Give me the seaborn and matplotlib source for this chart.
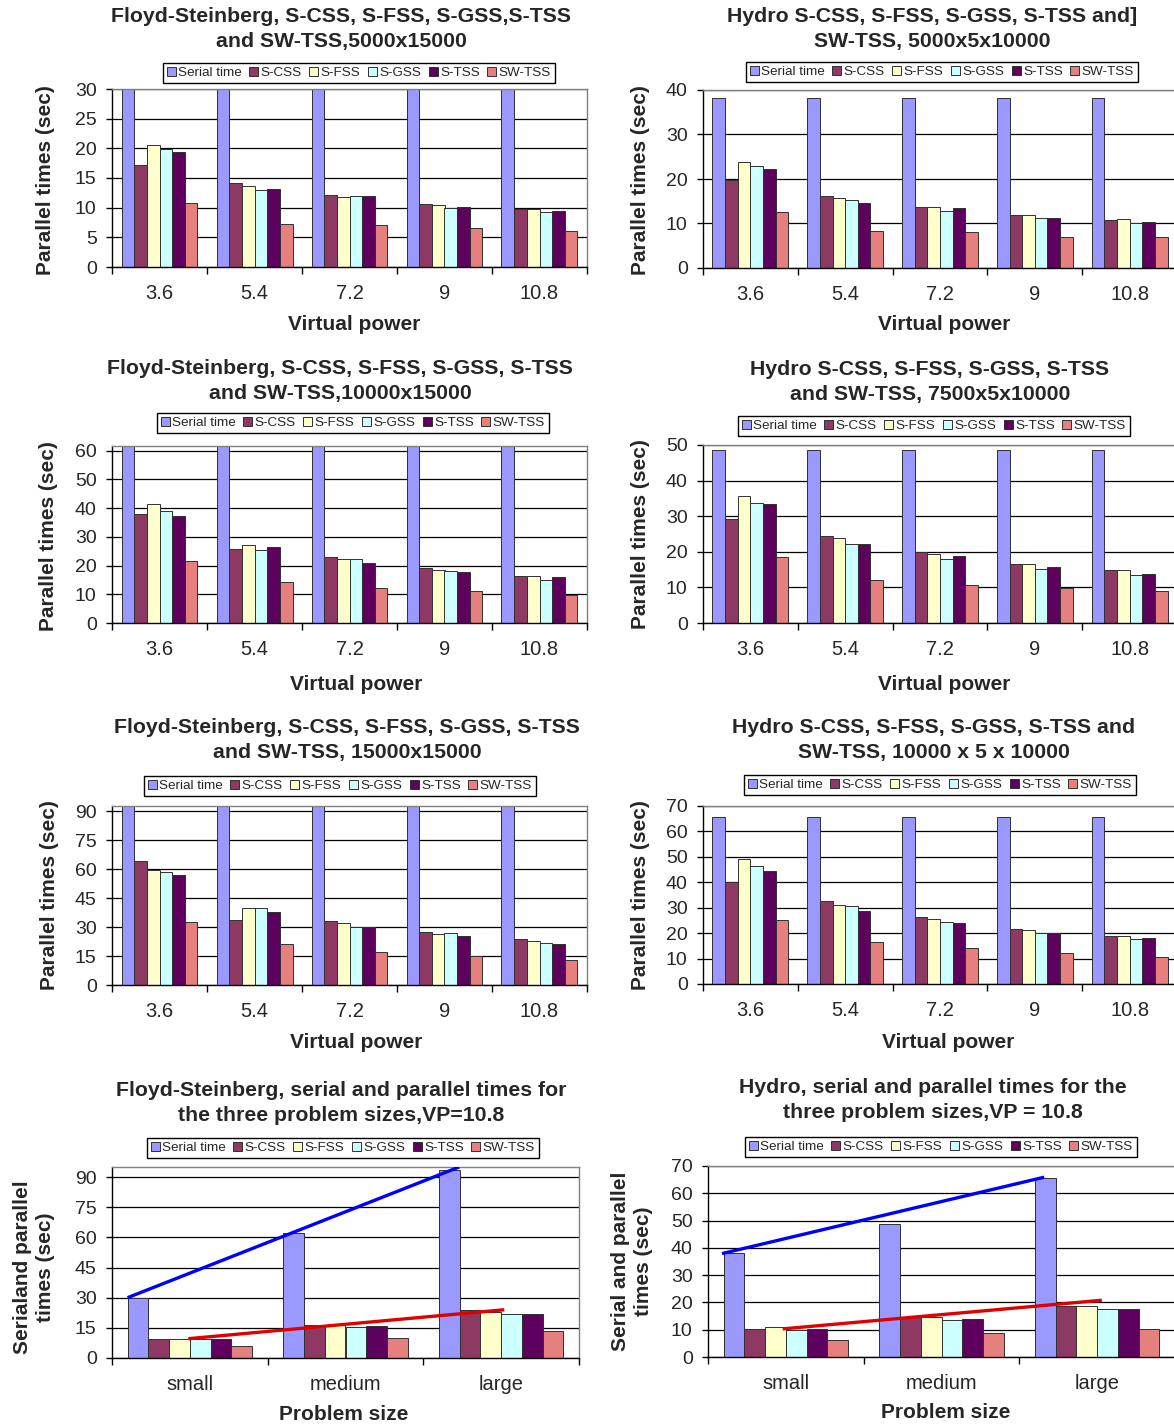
import numpy as np
import pandas as pd
import matplotlib
matplotlib.use("Agg")
import matplotlib.pyplot as plt
from matplotlib.patches import Patch
import seaborn as sns

# ---------------------------------------------------------------- data
SCHEDULES = ["Serial time", "S-CSS", "S-FSS", "S-GSS", "S-TSS", "SW-TSS"]
COLORS = ["#9999FF", "#8E3864", "#FFFFCC", "#CCFFFF", "#5E005E", "#E6807F"]
VP = ["3.6", "5.4", "7.2", "9", "10.8"]
SIZES = ["small", "medium", "large"]

# Floyd-Steinberg, 5000x15000
fs5k = {
    "Serial time": [30.0, 30.0, 30.0, 30.0, 30.0],
    "S-CSS": [17.2, 14.2, 12.1, 10.7, 9.7],
    "S-FSS": [20.5, 13.7, 11.8, 10.5, 9.7],
    "S-GSS": [19.9, 13.0, 12.0, 10.0, 9.3],
    "S-TSS": [19.35, 13.2, 12.0, 10.15, 9.5],
    "SW-TSS": [10.8, 7.3, 7.15, 6.5, 6.1],
}
# Hydro, 5000x5x10000
hy5k = {
    "Serial time": [38.3, 38.3, 38.3, 38.3, 38.3],
    "S-CSS": [19.8, 16.2, 13.8, 11.9, 10.7],
    "S-FSS": [23.8, 15.8, 13.6, 11.9, 10.9],
    "S-GSS": [23.0, 15.2, 12.9, 11.2, 10.0],
    "S-TSS": [22.3, 14.7, 13.5, 11.2, 10.3],
    "SW-TSS": [12.5, 8.4, 8.15, 7.0, 6.9],
}
# Floyd-Steinberg, 10000x15000
fs10k = {
    "Serial time": [62.2, 62.2, 62.2, 62.2, 62.2],
    "S-CSS": [37.8, 25.9, 22.8, 19.0, 16.5],
    "S-FSS": [41.3, 27.3, 22.1, 18.6, 16.5],
    "S-GSS": [39.1, 25.3, 22.4, 18.0, 15.1],
    "S-TSS": [37.4, 26.3, 21.0, 17.6, 15.9],
    "SW-TSS": [21.7, 14.1, 12.3, 11.0, 9.65],
}
# Hydro, 7500x5x10000
hy7k = {
    "Serial time": [48.7, 48.7, 48.7, 48.7, 48.7],
    "S-CSS": [29.1, 24.3, 19.9, 16.7, 14.8],
    "S-FSS": [35.7, 23.9, 19.5, 16.7, 15.0],
    "S-GSS": [33.8, 22.3, 18.1, 15.1, 13.6],
    "S-TSS": [33.3, 22.3, 18.7, 15.6, 13.9],
    "SW-TSS": [18.4, 12.0, 10.8, 9.85, 9.0],
}
# Floyd-Steinberg, 15000x15000
fs15k = {
    "Serial time": [93.4, 93.4, 93.4, 93.4, 93.4],
    "S-CSS": [63.9, 33.7, 33.2, 27.5, 23.8],
    "S-FSS": [59.4, 39.7, 32.0, 26.4, 23.0],
    "S-GSS": [58.7, 39.7, 29.9, 26.9, 21.9],
    "S-TSS": [56.8, 37.8, 30.1, 25.4, 21.2],
    "SW-TSS": [32.6, 21.1, 17.1, 15.0, 13.1],
}
# Hydro, 10000x5x10000
hy10k = {
    "Serial time": [65.7, 65.7, 65.7, 65.7, 65.7],
    "S-CSS": [40.3, 32.5, 26.2, 21.8, 18.7],
    "S-FSS": [49.2, 31.2, 25.4, 21.4, 18.7],
    "S-GSS": [46.5, 30.5, 24.3, 20.0, 17.6],
    "S-TSS": [44.6, 28.9, 23.9, 20.0, 17.9],
    "SW-TSS": [25.0, 16.4, 14.1, 12.1, 10.5],
}
# Floyd-Steinberg, VP = 10.8, three problem sizes
fs_sizes = {
    "Serial time": [30.0, 62.2, 93.4],
    "S-CSS": [9.5, 16.6, 23.7],
    "S-FSS": [9.5, 16.6, 22.8],
    "S-GSS": [9.4, 15.4, 21.8],
    "S-TSS": [9.5, 15.9, 21.7],
    "SW-TSS": [6.0, 10.0, 13.3],
}
# Hydro, VP = 10.8, three problem sizes
hy_sizes = {
    "Serial time": [38.2, 48.6, 65.7],
    "S-CSS": [10.4, 14.7, 18.8],
    "S-FSS": [10.9, 14.8, 18.8],
    "S-GSS": [9.8, 13.7, 17.7],
    "S-TSS": [10.1, 14.0, 17.7],
    "SW-TSS": [6.35, 8.9, 10.4],
}
# growth trend lines: (x start, x end) in category units, (y start, y end) in sec
fs_serial_trend = ([-0.40, 1.73], [30.0, 95.0])
fs_parallel_trend = ([-0.01, 2.02], [9.6, 24.0])
hy_serial_trend = ([-0.41, 1.66], [37.9, 65.9])
hy_parallel_trend = ([-0.02, 2.03], [10.3, 20.8])

# ---------------------------------------------------------------- style
sns.set_theme(style="ticks")
plt.rcParams["font.family"] = ["Liberation Sans", "DejaVu Sans"]
plt.rcParams["axes.facecolor"] = "white"

W, H = 1174, 1426
fig = plt.figure(figsize=(W / 100, H / 100), dpi=100)
fig.patch.set_facecolor("white")


def fx(x):
    return x / W


def fy(y):
    return 1 - y / H


def panel(rect, cats, data, ylim, ystep, title, title_xy, legend_xy,
          xlabel, xlabel_xy, ylabel, ylabel_xy):
    l, t, r, b = rect
    ax = fig.add_axes([fx(l), fy(b), (r - l) / W, (b - t) / H])
    rows = []
    for s in SCHEDULES:
        for c, v in zip(cats, data[s]):
            rows.append({"cat": c, "schedule": s, "time": v})
    df = pd.DataFrame(rows)
    sns.barplot(data=df, x="cat", y="time", hue="schedule", order=cats,
                hue_order=SCHEDULES, palette=COLORS, width=0.8, saturation=1,
                edgecolor="#303030", linewidth=0.7, errorbar=None,
                legend=False, ax=ax, zorder=2)
    n = len(cats)
    ax.set_xlim(-0.5, n - 0.5)
    ax.set_ylim(0, ylim)
    ax.set_yticks(np.arange(0, ylim + 0.01, ystep))
    ax.set_yticklabels([f"{v:g}" for v in np.arange(0, ylim + 0.01, ystep)])
    ax.yaxis.grid(True, color="black", lw=0.9, zorder=0)
    ax.xaxis.grid(False)
    ax.set_axisbelow(True)
    ax.set_xticks(np.arange(-0.5, n), minor=True)
    ax.tick_params(axis="x", which="major", length=0, pad=12, labelsize=14.5,
                   bottom=True)
    ax.tick_params(axis="x", which="minor", length=5, width=1,
                   direction="out", color="black", bottom=True)
    ax.tick_params(axis="y", length=4, width=1, direction="out", pad=7,
                   labelsize=14, color="black", left=True)
    for side in ("left", "bottom"):
        ax.spines[side].set_color("black")
        ax.spines[side].set_linewidth(1.0)
    for side in ("top", "right"):
        ax.spines[side].set_visible(True)
        ax.spines[side].set_color("#808080")
        ax.spines[side].set_linewidth(1.0)

    ax.set_xlabel(xlabel, fontsize=15, fontweight="bold")
    ax.set_ylabel(ylabel, fontsize=15, fontweight="bold", linespacing=1.3)
    ax.xaxis.set_label_coords((xlabel_xy[0] - l) / (r - l),
                              (b - xlabel_xy[1]) / (b - t))
    ax.xaxis.label.set_va("center")
    ax.yaxis.set_label_coords((ylabel_xy[0] - l) / (r - l),
                              (b - ylabel_xy[1]) / (b - t))
    ax.yaxis.label.set_va("center")
    ax.yaxis.label.set_ha("center")

    fig.text(fx(title_xy[0]), fy(title_xy[1]), title, ha="center",
             va="center", fontsize=15.3, fontweight="bold", linespacing=1.45)

    handles = [Patch(facecolor=c, edgecolor="#303030", linewidth=0.7)
               for c in COLORS]
    fig.legend(handles, SCHEDULES, loc="center",
               bbox_to_anchor=(fx(legend_xy[0]), fy(legend_xy[1])),
               ncol=6, fontsize=9.7, frameon=True, fancybox=False,
               edgecolor="black", framealpha=1, handlelength=0.65,
               handleheight=0.65, handletextpad=0.2, columnspacing=0.55,
               borderpad=0.3, borderaxespad=0)
    return ax


YL = "Parallel times (sec)"
XL = "Virtual power"

panel((112, 89, 587, 267), VP, fs5k, 30, 5,
      "Floyd-Steinberg, S-CSS, S-FSS, S-GSS,S-TSS\nand SW-TSS,5000x15000",
      (341, 29), (359, 73), XL, (354, 325), YL, (46, 180))
panel((703, 90, 1177, 268), VP, hy5k, 40, 10,
      "Hydro S-CSS, S-FSS, S-GSS, S-TSS and]\nSW-TSS, 5000x5x10000",
      (932, 29), (942, 72), XL, (944, 325), YL, (640, 180))
panel((112, 446, 587, 623), VP, fs10k, 61.6, 10,
      "Floyd-Steinberg, S-CSS, S-FSS, S-GSS, S-TSS\nand SW-TSS,10000x15000",
      (340, 381), (353, 423), XL, (356, 685), YL, (49, 536))
panel((703, 445, 1177, 623), VP, hy7k, 50, 10,
      "Hydro S-CSS, S-FSS, S-GSS, S-TSS\nand SW-TSS, 7500x5x10000",
      (930, 382), (934, 426), XL, (944, 685), YL, (641, 534))
panel((112, 806, 587, 985), VP, fs15k, 92.6, 15,
      "Floyd-Steinberg, S-CSS, S-FSS, S-GSS, S-TSS\nand SW-TSS, 15000x15000",
      (347, 740), (340, 786), XL, (356, 1043), YL, (50, 895))
panel((703, 806, 1177, 984), VP, hy10k, 70, 10,
      "Hydro S-CSS, S-FSS, S-GSS, S-TSS and\nSW-TSS, 10000 x 5 x 10000",
      (934, 740), (940, 785), XL, (948, 1043), YL, (641, 895))
ax7 = panel((112, 1167, 579, 1358), SIZES, fs_sizes, 95, 15,
            "Floyd-Steinberg, serial and parallel times for\n"
            "the three problem sizes,VP=10.8",
            (341, 1103), (343, 1148), "Problem size", (344, 1415),
            "Serialand parallel\ntimes (sec)", (34, 1267))
ax8 = panel((708, 1166, 1175, 1357), SIZES, hy_sizes, 70, 10,
            "Hydro, serial and parallel times for the\n"
            "three problem sizes,VP = 10.8",
            (933, 1100), (941, 1147), "Problem size", (946, 1413),
            "Serial and parallel\ntimes (sec)", (632, 1261))

for ax, serial_tr, par_tr in ((ax7, fs_serial_trend, fs_parallel_trend),
                              (ax8, hy_serial_trend, hy_parallel_trend)):
    ax.plot(serial_tr[0], serial_tr[1], color="#0000FF", lw=2.4, zorder=5,
            solid_capstyle="butt")
    ax.plot(par_tr[0], par_tr[1], color="#E00000", lw=2.4, zorder=5,
            solid_capstyle="butt")

fig.savefig("out.png", dpi=100, facecolor="white")
